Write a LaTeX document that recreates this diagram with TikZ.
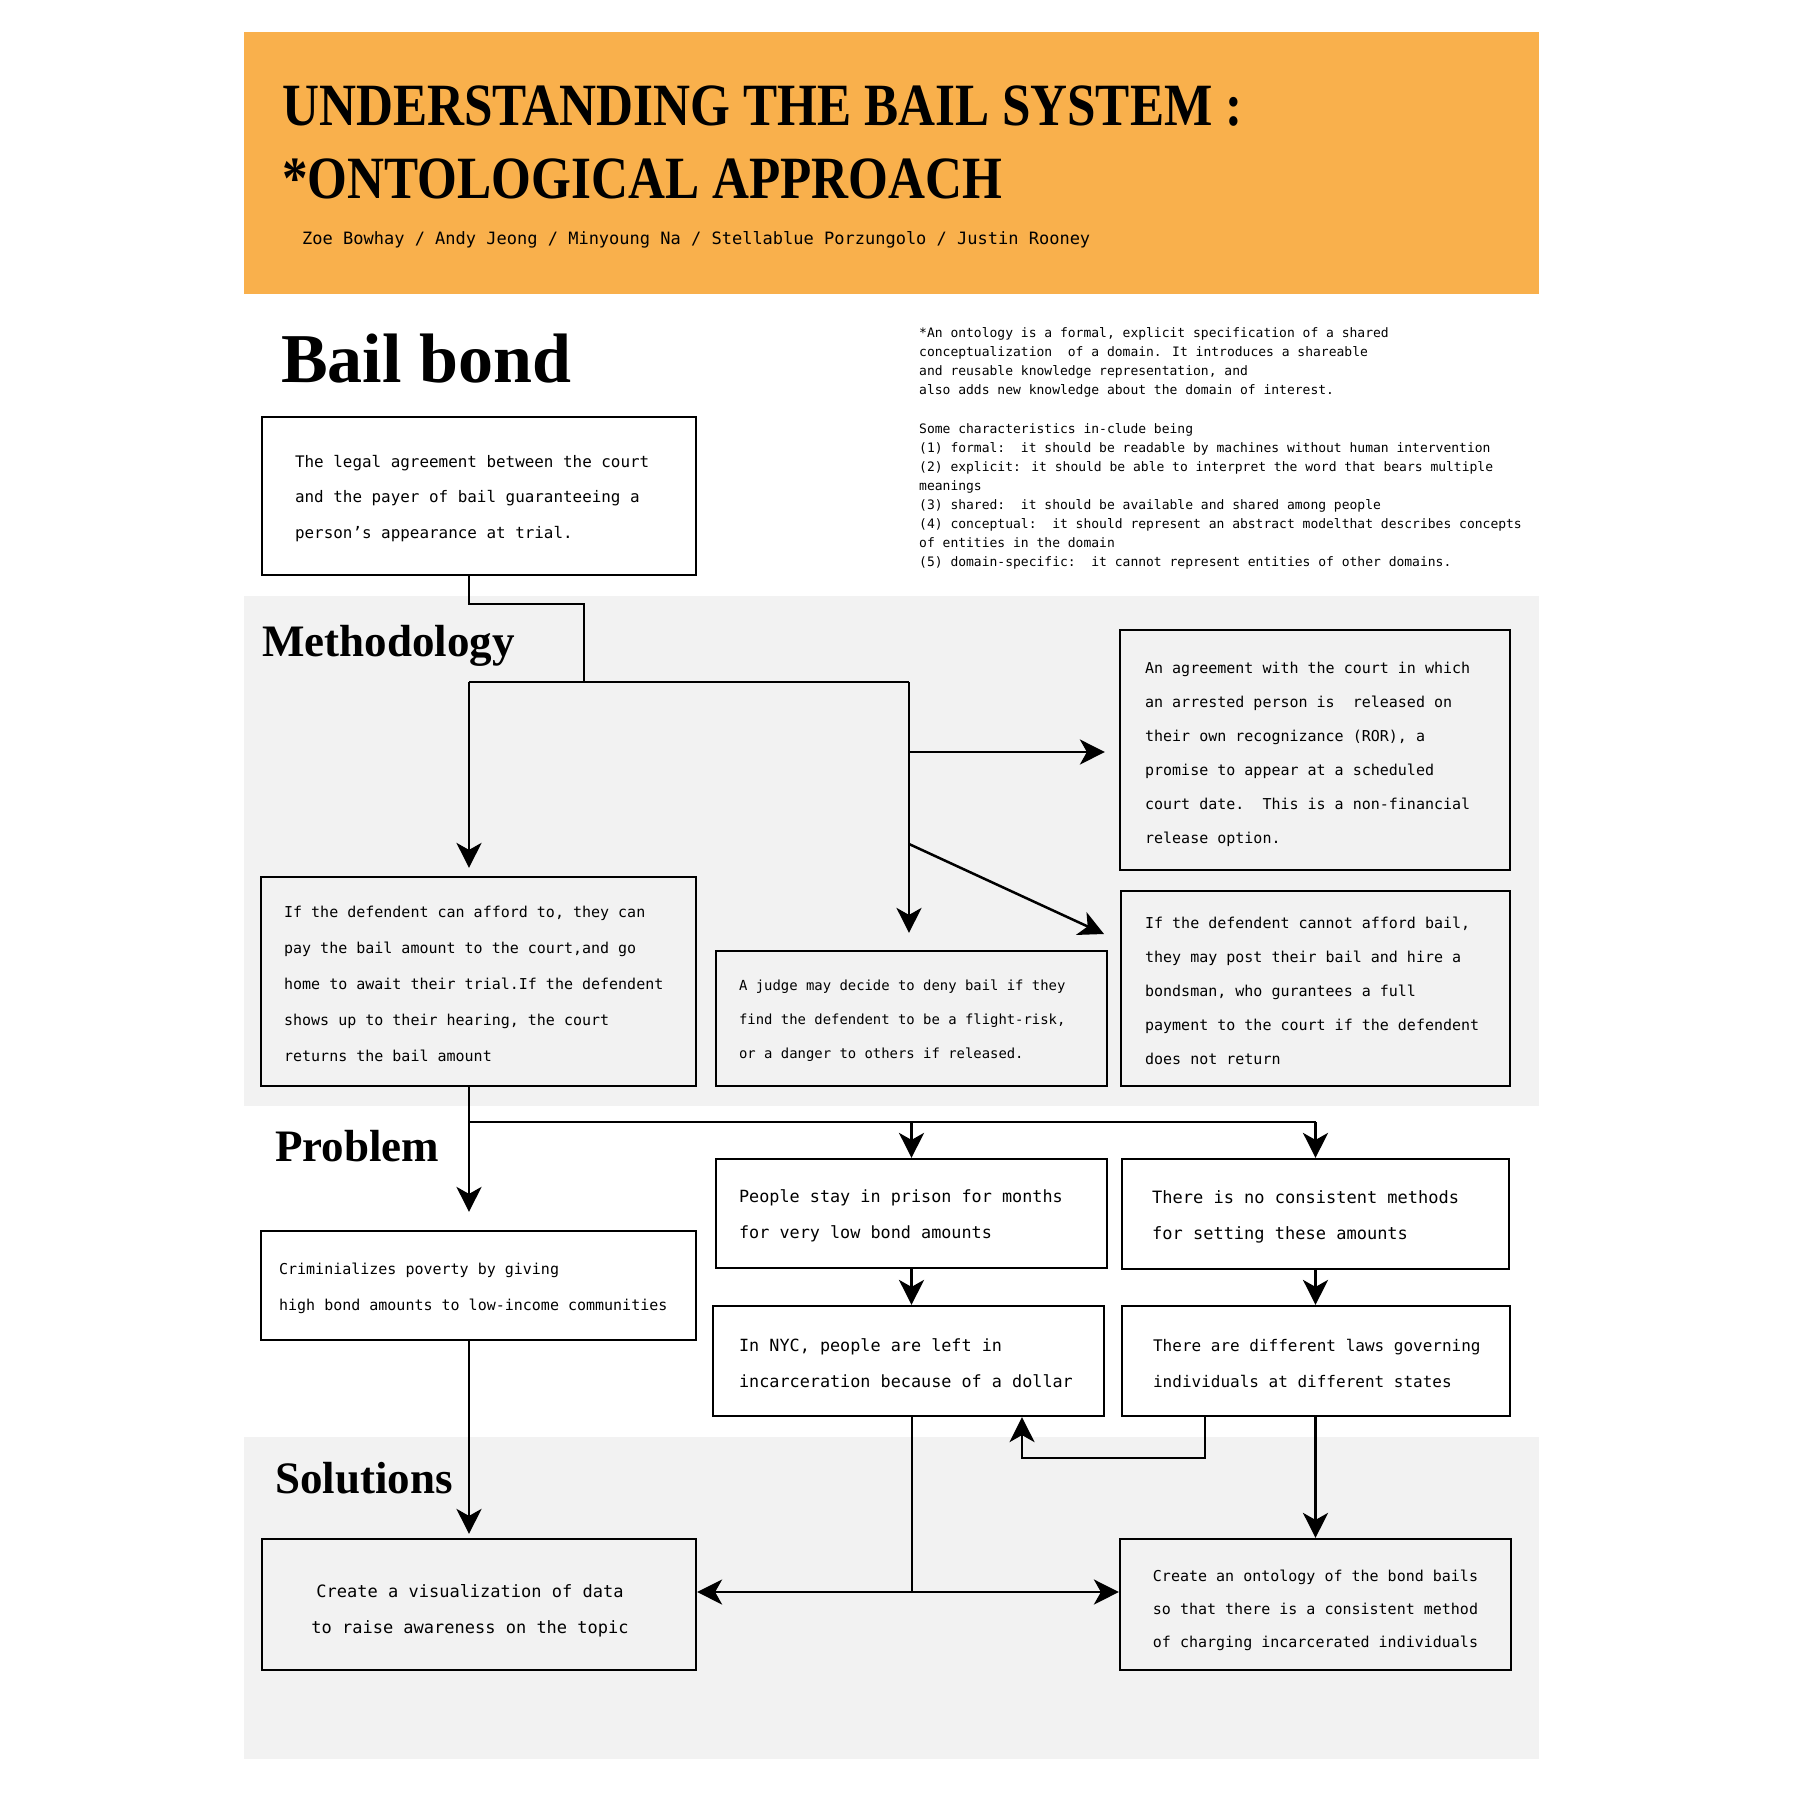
\documentclass[tikz,border=0pt]{standalone}
\usepackage{fontspec}
\setmainfont{Liberation Serif}
\newfontfamily\boxfont{DejaVu Sans Mono}
\newfontfamily\titlefont[FakeStretch=0.853]{Liberation Serif}
\usetikzlibrary{arrows.meta}
\definecolor{hdr}{HTML}{F9B04C}
\definecolor{band}{HTML}{F2F2F2}
\newcommand{\fs}[2]{\boxfont\fontsize{#1}{#2}\selectfont}
\begin{document}
\begin{tikzpicture}[x=1pt,y=-1pt,
  box/.style={draw, line width=2.2pt, inner sep=0pt},
  txt/.style={inner sep=0pt, align=left, anchor=west, yshift=-2.5pt},
  ctxt/.style={inner sep=0pt, align=center, yshift=-6pt},
  heading/.style={inner sep=0pt, anchor=base west, font=\bfseries\fontsize{45}{45}\selectfont},
  line/.style={line width=2.5pt, line join=miter},
  arr/.style={line width=2.5pt, -{Stealth[length=25pt,width=25pt,inset=7pt]}}
]
\useasboundingbox (0,0) rectangle (1812,1812);
\fill[white] (0,0) rectangle (1812,1812);
% bands
\fill[hdr] (244,32) rectangle (1539,294);
\fill[band] (244,596) rectangle (1539,1106);
\fill[band] (244,1437) rectangle (1539,1759);

% header texts
\node[inner sep=0pt, anchor=base west, font=\titlefont\bfseries\fontsize{60}{60}\selectfont] (title1) at (282,125) {UNDERSTANDING THE BAIL SYSTEM :};
\node[inner sep=0pt, anchor=base west, font=\titlefont\bfseries\fontsize{60}{60}\selectfont] (title2) at (282,198) {*ONTOLOGICAL APPROACH};
\node[inner sep=0pt, anchor=west, font=\fs{17}{20}] (authors) at (302,240) {Zoe Bowhay / Andy Jeong / Minyoung Na / Stellablue Porzungolo / Justin Rooney};

% headings
\node[inner sep=0pt, anchor=base west, font=\bfseries\fontsize{70}{70}\selectfont] (hbail) at (281,382) {Bail bond};
\node[heading] (hmeth) at (262,656) {Methodology};
\node[heading] (hprob) at (275,1161) {Problem};
\node[heading] (hsol) at (275,1493) {Solutions};

% definition
\node[inner sep=0pt, anchor=north west, align=left, font=\fs{13}{19.08}] (defn) at (919,327.5) {%
*An ontology is a formal, explicit specification of a shared\\
conceptualization\ \ of a domain. It introduces a shareable\\
and reusable knowledge representation, and\\
also adds new knowledge about the domain of interest.\\[19.08pt]
Some characteristics in-clude being\\
(1) formal:\ \ it should be readable by machines without human intervention\\
(2) explicit: it should be able to interpret the word that bears multiple\\
meanings\\
(3) shared:\ \ it should be available and shared among people\\
(4) conceptual:\ \ it should represent an abstract modelthat describes concepts\\
of entities in the domain\\
(5) domain-specific:\ \ it cannot represent entities of other domains.};

% boxes
\node[box, minimum width=434pt, minimum height=158pt] (bail) at (479,496) {};
\node[txt, font=\fs{15.9}{35.8}] (bailT) at ([xshift=34pt]bail.west) {The legal agreement between the court\\and the payer of bail guaranteeing a\\person’s appearance at trial.};

\node[box, minimum width=390pt, minimum height=240pt] (ror) at (1315,750) {};
\node[txt, font=\fs{15}{34}, yshift=-1.5pt] (rorT) at ([xshift=26pt]ror.west) {An agreement with the court in which\\an arrested person is\ \ released on\\their own recognizance (ROR), a\\promise to appear at a scheduled\\court date.\ \ This is a non-financial\\release option.};

\node[box, minimum width=435pt, minimum height=209pt] (l2) at (478.5,981.5) {};
\node[txt, font=\fs{15}{36}] (l2T) at ([xshift=24pt]l2.west) {If the defendent can afford to, they can\\pay the bail amount to the court,and go\\home to await their trial.If the defendent\\shows up to their hearing, the court\\returns the bail amount};

\node[box, minimum width=391pt, minimum height=135pt] (judge) at (911.5,1018.5) {};
\node[txt, font=\fs{13.9}{34}] (judgeT) at ([xshift=24pt]judge.west) {A judge may decide to deny bail if they\\find the defendent to be a flight-risk,\\or a danger to others if released.};

\node[box, minimum width=389pt, minimum height=195pt] (bonds) at (1315.5,988.5) {};
\node[txt, font=\fs{15}{34}] (bondsT) at ([xshift=25pt]bonds.west) {If the defendent cannot afford bail,\\they may post their bail and hire a\\bondsman, who gurantees a full\\payment to the court if the defendent\\does not return};

\node[box, minimum width=435pt, minimum height=109pt] (crim) at (478.5,1285.5) {};
\node[txt, font=\fs{15}{36}] (crimT) at ([xshift=19pt]crim.west) {Criminializes poverty by giving\\high bond amounts to low-income communities};

\node[box, minimum width=391pt, minimum height=109pt] (p1) at (911.5,1213.5) {};
\node[txt, font=\fs{16.8}{36}] (p1T) at ([xshift=24pt]p1.west) {People stay in prison for months\\for very low bond amounts};

\node[box, minimum width=387pt, minimum height=110pt] (p2) at (1315.5,1214) {};
\node[txt, font=\fs{17}{36}] (p2T) at ([xshift=31pt]p2.west) {There is no consistent methods\\for setting these amounts};

\node[box, minimum width=391pt, minimum height=110pt] (p3) at (908.5,1361) {};
\node[txt, font=\fs{16.8}{36}] (p3T) at ([xshift=27pt]p3.west) {In NYC, people are left in\\incarceration because of a dollar};

\node[box, minimum width=388pt, minimum height=110pt] (p4) at (1316,1361) {};
\node[txt, font=\fs{16}{36}] (p4T) at ([xshift=32pt]p4.west) {There are different laws governing\\individuals at different states};

\node[box, minimum width=434pt, minimum height=131pt] (s1) at (479,1604.5) {};
\node[ctxt, font=\fs{17}{36}] (s1T) at ([xshift=-9pt]s1.center) {Create a visualization of data\\to raise awareness on the topic};

\node[box, minimum width=391pt, minimum height=131pt] (s2) at (1315.5,1604.5) {};
\node[ctxt, font=\fs{15}{33}] (s2T) at (s2.center) {Create an ontology of the bond bails\\so that there is a consistent method\\of charging incarcerated individuals};

% connectors - methodology
\coordinate (b1) at (469,604);
\coordinate (b2) at (584,682);
\coordinate (hub) at (909,682);
\coordinate (h2) at (909,752);
\coordinate (d1) at (909,844);
\coordinate (d2) at (1104,934);
\draw[line] (bail.south -| b1) -- (b1) -| (b2);
\draw[line] (b1 |- b2) -- (hub);
\draw[arr, shorten >=8pt] (b1 |- b2) -- (l2.north -| b1);
\draw[arr, shorten >=17pt] (hub) -- (judge.north -| hub);
\draw[arr, shorten >=14pt] (h2) -- (ror.west |- h2);
\draw[arr] (d1) -- (d2);

% connectors - problem
\coordinate (c1) at (469,1122);
\draw[line] (l2.south -| c1) -- (c1) -- (c1 -| p2.north);
\draw[arr, shorten >=18pt] (c1) -- (crim.north -| c1);
\draw[arr] (c1 -| p1.north) -- (p1.north);
\draw[arr] (c1 -| p2.north) -- (p2.north);
\draw[arr] (p1.south) -- (p3.north -| p1.south);
\draw[arr] (p2.south) -- (p4.north -| p2.south);
\coordinate (e1) at (1205,1458);
\coordinate (e2) at (1022,1458);
\draw[arr] (p4.south -| e1) -- (e1) -- (e2) -- (p3.south -| e2);

% connectors - solutions
\draw[arr] (p4.south -| p2.south) -- (s2.north -| p2.south);
\draw[arr, shorten >=4pt] (crim.south -| c1) -- (s1.north -| c1);
\coordinate (m) at (912,1592);
\draw[line] (p3.south -| m) -- (m);
\draw[arr] (m) -- (s1.east |- m);
\draw[arr] (m) -- (s2.west |- m);
\end{tikzpicture}
\end{document}
